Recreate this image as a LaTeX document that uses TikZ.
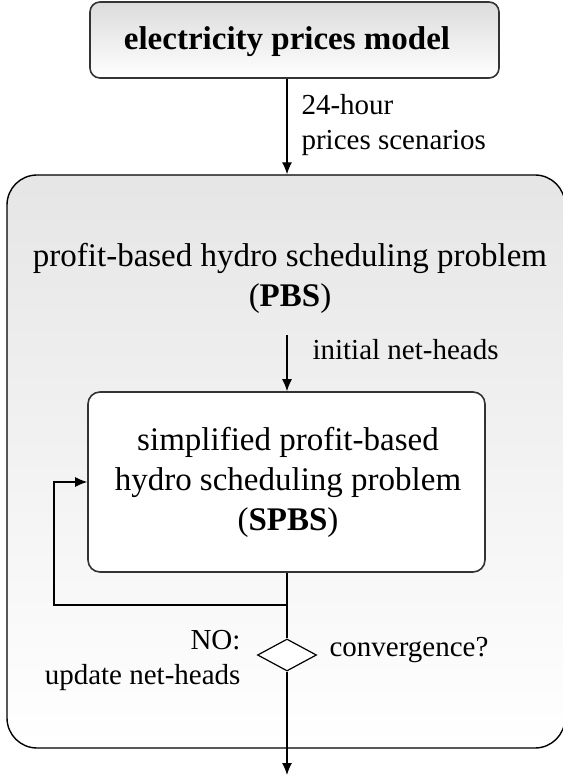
\documentclass[tikz,border=0pt]{standalone}
\usepackage{fontspec}
\setmainfont{Liberation Serif}
\usetikzlibrary{shapes.geometric}
\usetikzlibrary{arrows.meta}

\begin{document}
\begin{tikzpicture}[x=1pt,y=-1pt,
    block/.style={draw=black!80,line width=1.6pt,rounded corners=10pt,inner sep=0pt},
    bigtext/.style={font=\fontsize{33}{40}\selectfont,align=center},
    smalltext/.style={font=\fontsize{29}{35}\selectfont},
    flow/.style={line width=1.2pt,-{Latex[length=12pt,width=10pt]}}]
      \useasboundingbox (0,0) rectangle (562,775);
      \node[block,minimum width=409pt,minimum height=76pt,top color=black!14,bottom color=white] (prices) at (294.5,40) {};
      \node[bigtext] (pricestext) at (287,42) {\textbf{electricity prices model}};
      \node[block,draw=black,line width=1.4pt,rounded corners=30pt,minimum width=558pt,minimum height=573pt,top color=black!10,bottom color=white] (pbs) at (286,461.5) {};
      \node[bigtext] (pbstext) at (290,278) {profit-based hydro scheduling problem\\(\textbf{PBS})};
      \node[block,rounded corners=12pt,fill=white,minimum width=397pt,minimum height=180pt] (spbs) at (286.5,482) {};
      \node[bigtext] (spbstext) at (288,482) {simplified profit-based\\hydro scheduling problem\\(\textbf{SPBS})};
      \node[diamond,draw,line width=1.2pt,fill=white,minimum width=59pt,minimum height=32pt,inner sep=0pt] (conv) at (287,655) {};
      \node[smalltext,align=left,anchor=west] (scen) at (298,125) {24-hour\\prices scenarios};
      \node[smalltext,anchor=west] (init) at (309,350) {initial net-heads};
      \node[smalltext,align=right,anchor=east] (no) at (244,660) {NO:\\update net-heads};
      \node[smalltext,anchor=west] (convtext) at (326,650) {convergence?};
      \coordinate (start) at (287,335);
      \coordinate (join) at (287,605);
      \coordinate (back) at (54,605);
      \coordinate (out) at (287,775);
      \draw[flow] (pricestext |- prices.south) -- (pricestext |- pbs.north);
      \draw[flow] (start) -- (start |- spbs.north);
      \draw[line width=1.2pt] (join |- spbs.south) -- (conv.north);
      \draw[flow] (join) -- (back) |- (spbs.west);
      \draw[flow] (conv.south) -- (out);
\end{tikzpicture}
\end{document}
